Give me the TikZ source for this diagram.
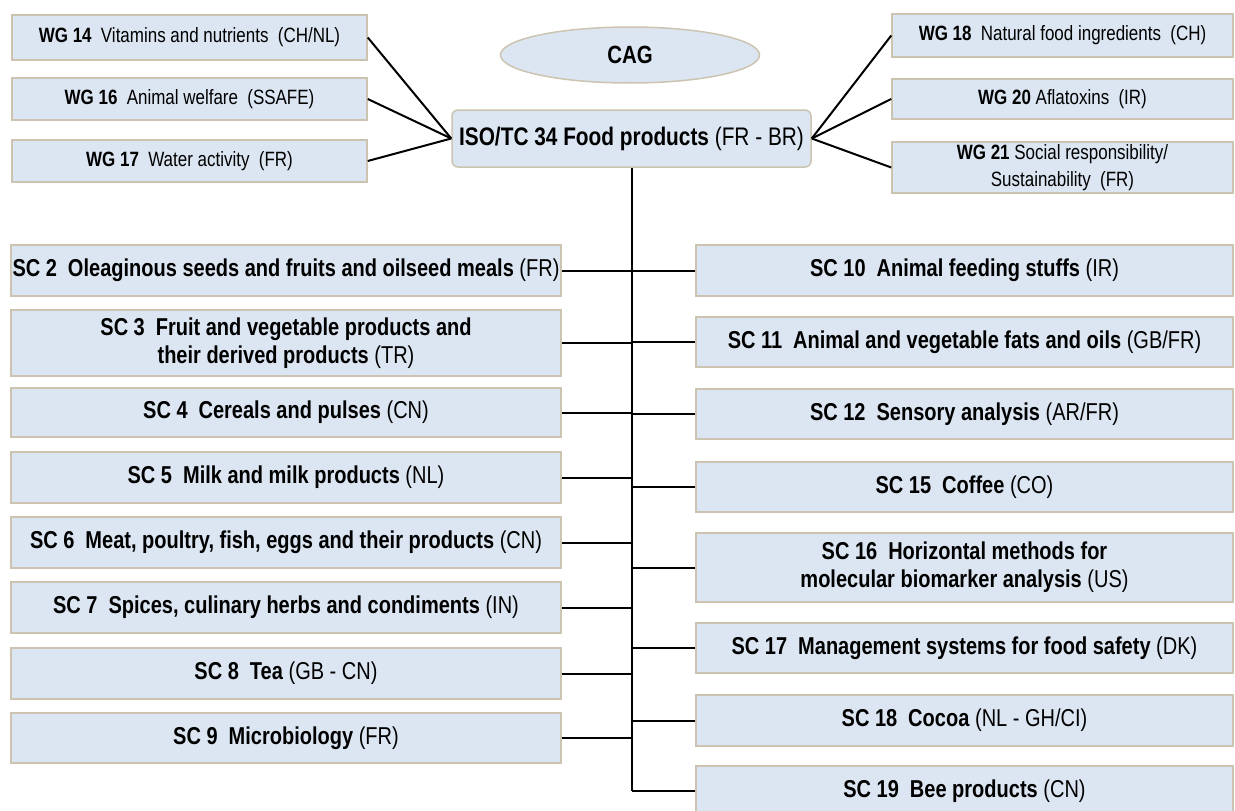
\documentclass[tikz,border=0pt]{standalone}
\usepackage{fontspec}
\setmainfont[FakeStretch=0.82]{Liberation Sans}
\usetikzlibrary{shapes.geometric,calc}
\definecolor{boxfill}{RGB}{220,230,242}
\definecolor{boxedge}{RGB}{204,196,176}
\newcommand\gap{\hspace{0.45em}}
\tikzset{
 box/.style={draw=boxedge, line width=1.5pt, fill=boxfill, rectangle, inner sep=0pt, align=center, font=\fontsize{24.4}{28}\selectfont},
 wg/.style={box, font=\fontsize{20.7}{27}\selectfont},
 lsc/.style={box, minimum width=550},
 rsc/.style={box, minimum width=537},
 conn/.style={draw=black, line width=2pt},
}
\begin{document}
\begin{tikzpicture}[x=1pt,y=-1pt]
\useasboundingbox (0,0) rectangle (1235,811);
% CAG and main
\node[ellipse, draw=boxedge, line width=1.5pt, fill=boxfill, minimum width=259, minimum height=56, inner sep=0pt, font=\fontsize{24.9}{28}\selectfont\bfseries] (cag) at (630,55) {CAG};
\node[box, rounded corners=6pt, minimum width=359, minimum height=57, font=\fontsize{25.4}{28}\selectfont] (iso) at (631.5,138.5) {\textbf{ISO/TC 34 Food products} (FR - BR)};
% left WGs
\node[wg, minimum width=355, minimum height=45] (wg14) at (189.5,37.5) {\textbf{WG 14}\gap Vitamins and nutrients\gap (CH/NL)};
\node[wg, minimum width=355, minimum height=42] (wg16) at (189.5,99) {\textbf{WG 16}\gap Animal welfare\gap (SSAFE)};
\node[wg, minimum width=355, minimum height=42] (wg17) at (189.5,161) {\textbf{WG 17}\gap Water activity\gap (FR)};
% right WGs
\node[wg, minimum width=341, minimum height=43] (wg18) at (1062.5,35.5) {\textbf{WG 18}\gap Natural food ingredients\gap (CH)};
\node[wg, minimum width=341, minimum height=40] (wg20) at (1062.5,99) {\textbf{WG 20} Aflatoxins\gap (IR)};
\node[wg, minimum width=341, minimum height=51] (wg21) at (1062.5,167.5) {\textbf{WG 21} Social responsibility/\\Sustainability\gap (FR)};
% left SCs
\node[lsc, minimum height=51] (sc2) at (286,270.5) {\textbf{SC 2\gap Oleaginous seeds and fruits and oilseed meals} (FR)};
\node[lsc, minimum height=66] (sc3) at (286,343) {\textbf{SC 3\gap Fruit and vegetable products and}\\\textbf{their derived products} (TR)};
\node[lsc, minimum height=49] (sc4) at (286,412.5) {\textbf{SC 4\gap Cereals and pulses} (CN)};
\node[lsc, minimum height=51] (sc5) at (286,477.5) {\textbf{SC 5\gap Milk and milk products} (NL)};
\node[lsc, minimum height=51] (sc6) at (286,542.5) {\textbf{SC 6\gap Meat, poultry, fish, eggs and their products} (CN)};
\node[lsc, minimum height=51] (sc7) at (286,607.5) {\textbf{SC 7\gap Spices, culinary herbs and condiments} (IN)};
\node[lsc, minimum height=51] (sc8) at (286,673.5) {\textbf{SC 8\gap Tea} (GB - CN)};
\node[lsc, minimum height=50] (sc9) at (286,738) {\textbf{SC 9\gap Microbiology} (FR)};
% right SCs
\node[rsc, minimum height=51] (sc10) at (964.5,270.5) {\textbf{SC 10\gap Animal feeding stuffs} (IR)};
\node[rsc, minimum height=50] (sc11) at (964.5,342) {\textbf{SC 11\gap Animal and vegetable fats and oils} (GB/FR)};
\node[rsc, minimum height=50] (sc12) at (964.5,414) {\textbf{SC 12\gap Sensory analysis} (AR/FR)};
\node[rsc, minimum height=50] (sc15) at (964.5,487) {\textbf{SC 15\gap Coffee} (CO)};
\node[rsc, minimum height=69] (sc16) at (964.5,567.5) {\textbf{SC 16\gap Horizontal methods for}\\\textbf{molecular biomarker analysis} (US)};
\node[rsc, minimum height=50] (sc17) at (964.5,648) {\textbf{SC 17\gap Management systems for food safety} (DK)};
\node[rsc, minimum height=51] (sc18) at (964.5,720.5) {\textbf{SC 18\gap Cocoa} (NL - GH/CI)};
\node[rsc, minimum height=50] (sc19) at (964.5,791) {\textbf{SC 19\gap Bee products} (CN)};
% connectors
\foreach \w in {wg14,wg16,wg17}{\draw[conn] (\w.east) -- (iso.west);}
\foreach \w in {wg18,wg20,wg21}{\draw[conn] (\w.west) -- (iso.east);}
\coordinate (tb) at (iso.south |- sc19.west);
\draw[conn] (iso.south) -- (tb);
\foreach \s in {sc2,sc3,sc4,sc5,sc6,sc7,sc8,sc9}{\draw[conn] (\s.east) -- (\s.east -| iso.south);}
\foreach \s in {sc10,sc11,sc12,sc15,sc16,sc17,sc18,sc19}{\draw[conn] (\s.west) -- (\s.west -| iso.south);}
\end{tikzpicture}
\end{document}
